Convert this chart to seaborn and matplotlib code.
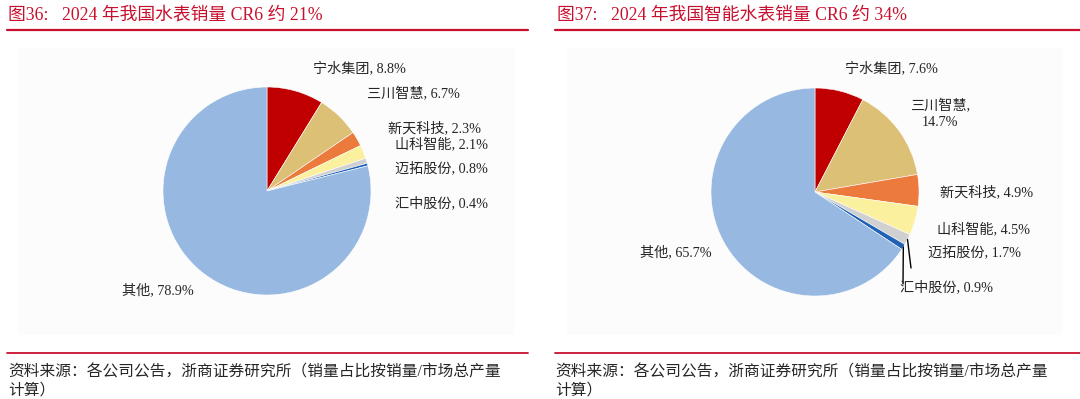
import numpy as np
import matplotlib
matplotlib.use("Agg")
import matplotlib.pyplot as plt
from matplotlib.patches import Rectangle
import seaborn as sns

# data (share of sales volume, %)
companies = ["宁水集团", "三川智慧", "新天科技", "山科智能", "迈拓股份", "汇中股份", "其他"]
share_all = [8.8, 6.7, 2.3, 2.1, 0.8, 0.4, 78.9]
share_smart = [7.6, 14.7, 4.9, 4.5, 1.7, 0.9, 65.7]
slice_colors = ["#C00000", "#DBC075", "#EB7A3C", "#FAF09E", "#D0D0D0", "#1F62B8", "#97B8E0"]

title_all = "图36:   2024 年我国水表销量 CR6 约 21%"
title_smart = "图37:   2024 年我国智能水表销量 CR6 约 34%"
source_note = "资料来源：各公司公告，浙商证券研究所（销量占比按销量/市场总产量\n计算）"

sns.set_theme(style="white")
plt.rcParams['font.family'] = ['Liberation Serif', 'Noto Sans CJK SC']

RED = "#C8102E"
TXT = "#262626"

fig = plt.figure(figsize=(10.8, 3.99), dpi=100)
ax = fig.add_axes([0, 0, 1, 1])

# faint chart-area panels
ax.add_patch(Rectangle((18, 48), 497, 287, facecolor="#FCFCFC", edgecolor="none", zorder=0))
ax.add_patch(Rectangle((567, 48), 496, 287, facecolor="#FCFCFC", edgecolor="none", zorder=0))

# pies (y axis is inverted below, so startangle -90 / counterclock=True runs clockwise from top)
pies = [
    (share_all, (267, 191), 104),
    (share_smart, (815, 192), 104),
]
for values, center, radius in pies:
    ax.pie(values, colors=slice_colors, startangle=-90, counterclock=True,
           center=center, radius=radius, frame=True,
           wedgeprops=dict(edgecolor="white", linewidth=0.4))

ax.set_xlim(0, 1080)
ax.set_ylim(399, 0)
ax.set_aspect("auto")
ax.axis("off")

lab_fs = 10.2

# labels, left pie
left_pos = [(313, 68), (367, 94), (388, 128), (395, 145), (395, 168), (395, 203), (122, 290)]
for name, val, (x, y) in zip(companies, share_all, left_pos):
    ax.text(x, y, f"{name}, {val}%", fontsize=lab_fs, color=TXT, ha="left", va="center")

# labels, right pie
right_pos = [(845, 68), (940, 114), (940, 192), (937, 230), (928, 252), (900, 287), (640, 252)]
for i, (name, val, (x, y)) in enumerate(zip(companies, share_smart, right_pos)):
    if i == 1:
        ax.text(x, y, f"{name},\n{val}%", fontsize=lab_fs, color=TXT, ha="center",
                va="center", linespacing=1.2)
    else:
        ax.text(x, y, f"{name}, {val}%", fontsize=lab_fs, color=TXT, ha="left", va="center")

# leader lines for the two thin slices on the right pie
cum = np.cumsum(share_smart)
cx, cy = 815, 192
ends = {4: (911, 268), 5: (903, 284)}
for idx, (ex, ey) in ends.items():
    mid = (cum[idx] - share_smart[idx] / 2) / 100 * 2 * np.pi
    sx = cx + 104 * np.sin(mid)
    sy = cy - 104 * np.cos(mid)
    ax.plot([sx, ex], [sy, ey], color="black", lw=1.0)

# titles and rules
ax.text(8, 15, title_all, fontsize=12.8, color=RED, ha="left", va="center")
ax.text(557, 15, title_smart, fontsize=12.8, color=RED, ha="left", va="center")
ax.plot([7, 528], [30, 30], color=RED, lw=1.6)
ax.plot([555, 1080], [30, 30], color=RED, lw=1.6)

ax.plot([7, 528], [353, 353], color=RED, lw=1.3)
ax.plot([555, 1080], [353, 353], color=RED, lw=1.3)
ax.text(8, 364, source_note, fontsize=11.3, color=TXT, ha="left", va="top", linespacing=1.25)
ax.text(555, 364, source_note, fontsize=11.3, color=TXT, ha="left", va="top", linespacing=1.25)

fig.savefig("out.png", dpi=100, facecolor="white")
